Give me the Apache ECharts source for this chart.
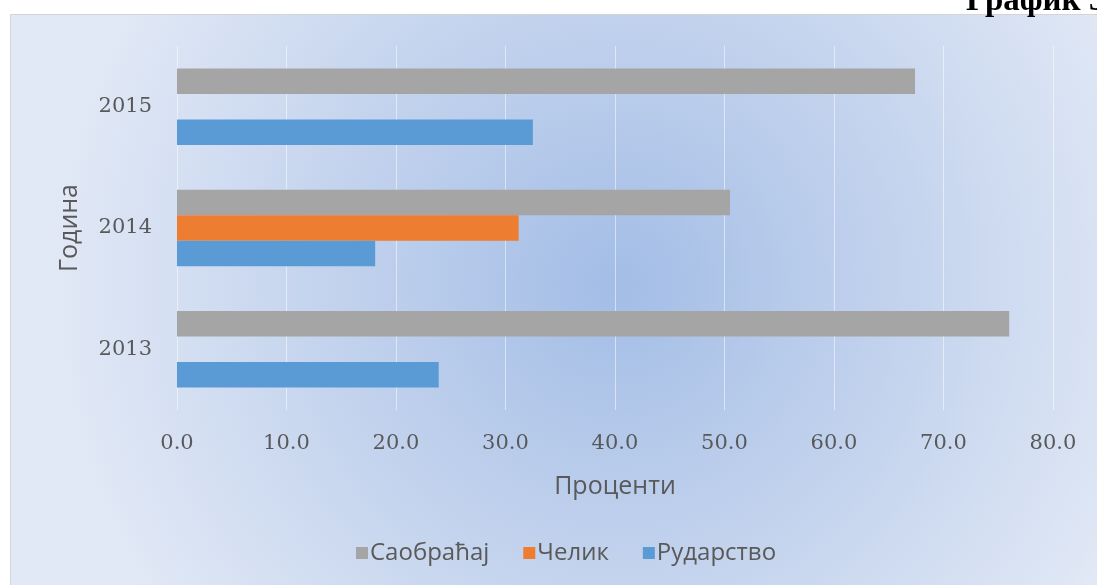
<!DOCTYPE html>
<html>
<head>
<meta charset="utf-8">
<script src="https://cdn.jsdelivr.net/npm/echarts@6/dist/echarts.min.js"></script>
<style>
html,body{margin:0;padding:0;background:#fff;}
#c{width:1097px;height:585px;}
</style>
</head>
<body>
<div id="c"></div>
<script>
const categories = ['2013', '2014', '2015'];
const seriesNames = ['Саобраћај', 'Челик', 'Рударство'];
const saobracaj = [76.0, 50.5, 67.4];
const celik = [null, 31.2, null];
const rudarstvo = [23.9, 18.1, 32.5];
const xTicks = [0, 10, 20, 30, 40, 50, 60, 70, 80];
const colors = ['#a5a5a5', '#ed7d31', '#5b9bd5'];

const chart = echarts.init(document.getElementById('c'));
const sans = 'Open Sans';
const serif = 'DejaVu Serif';
chart.setOption({
  animation: false,
  color: colors,
  graphic: [
    {
      type: 'rect', z: -10, silent: true,
      shape: { x: 10.5, y: 14.5, width: 1100, height: 600 },
      style: {
        fill: {
          type: 'radial', x: 0.55, y: 0.45, r: 0.95,
          colorStops: [
            { offset: 0, color: '#a3bde6' },
            { offset: 0.55, color: '#c6d5ee' },
            { offset: 1, color: '#e2e9f6' }
          ]
        },
        stroke: '#d4d4d4', lineWidth: 1
      }
    },
    {
      type: 'text', silent: true, left: 966, top: -15,
      style: { text: 'График 3', font: 'bold 33px "Liberation Serif"', fill: '#000' }
    }
  ],
  legend: {
    data: seriesNames,
    top: 536,
    left: 351,
    itemWidth: 12, itemHeight: 12, itemGap: 34,
    icon: 'rect',
    textStyle: { fontFamily: sans, fontSize: 24, color: '#595959', padding: [0, 0, 0, -3] }
  },
  grid: { left: 177, right: 44, top: 46, bottom: 175 },
  xAxis: {
    type: 'value', min: xTicks[0], max: xTicks[xTicks.length - 1], interval: 10,
    name: 'Проценти', nameLocation: 'middle', nameGap: 64,
    nameTextStyle: { fontFamily: sans, fontSize: 25, color: '#595959' },
    axisLine: { show: false }, axisTick: { show: false },
    axisLabel: { margin: 23, fontFamily: serif, fontSize: 21, color: '#595959', formatter: v => v.toFixed(1) },
    splitLine: { lineStyle: { color: 'rgba(255,255,255,0.5)', width: 1 } }
  },
  yAxis: {
    type: 'category', data: categories,
    name: 'Година', nameLocation: 'middle', nameGap: 95,
    nameTextStyle: { fontFamily: sans, fontSize: 25, color: '#595959' },
    axisLine: { show: false }, axisTick: { show: false },
    axisLabel: { margin: 25, fontFamily: serif, fontSize: 21, color: '#595959' },
    splitLine: { show: false }
  },
  series: [
    { name: seriesNames[0], type: 'bar', data: saobracaj, barGap: '0%', barCategoryGap: '37%' },
    { name: seriesNames[1], type: 'bar', data: celik, barGap: '0%', barCategoryGap: '37%' },
    { name: seriesNames[2], type: 'bar', data: rudarstvo, barGap: '0%', barCategoryGap: '37%' }
  ]
});
</script>
</body>
</html>
